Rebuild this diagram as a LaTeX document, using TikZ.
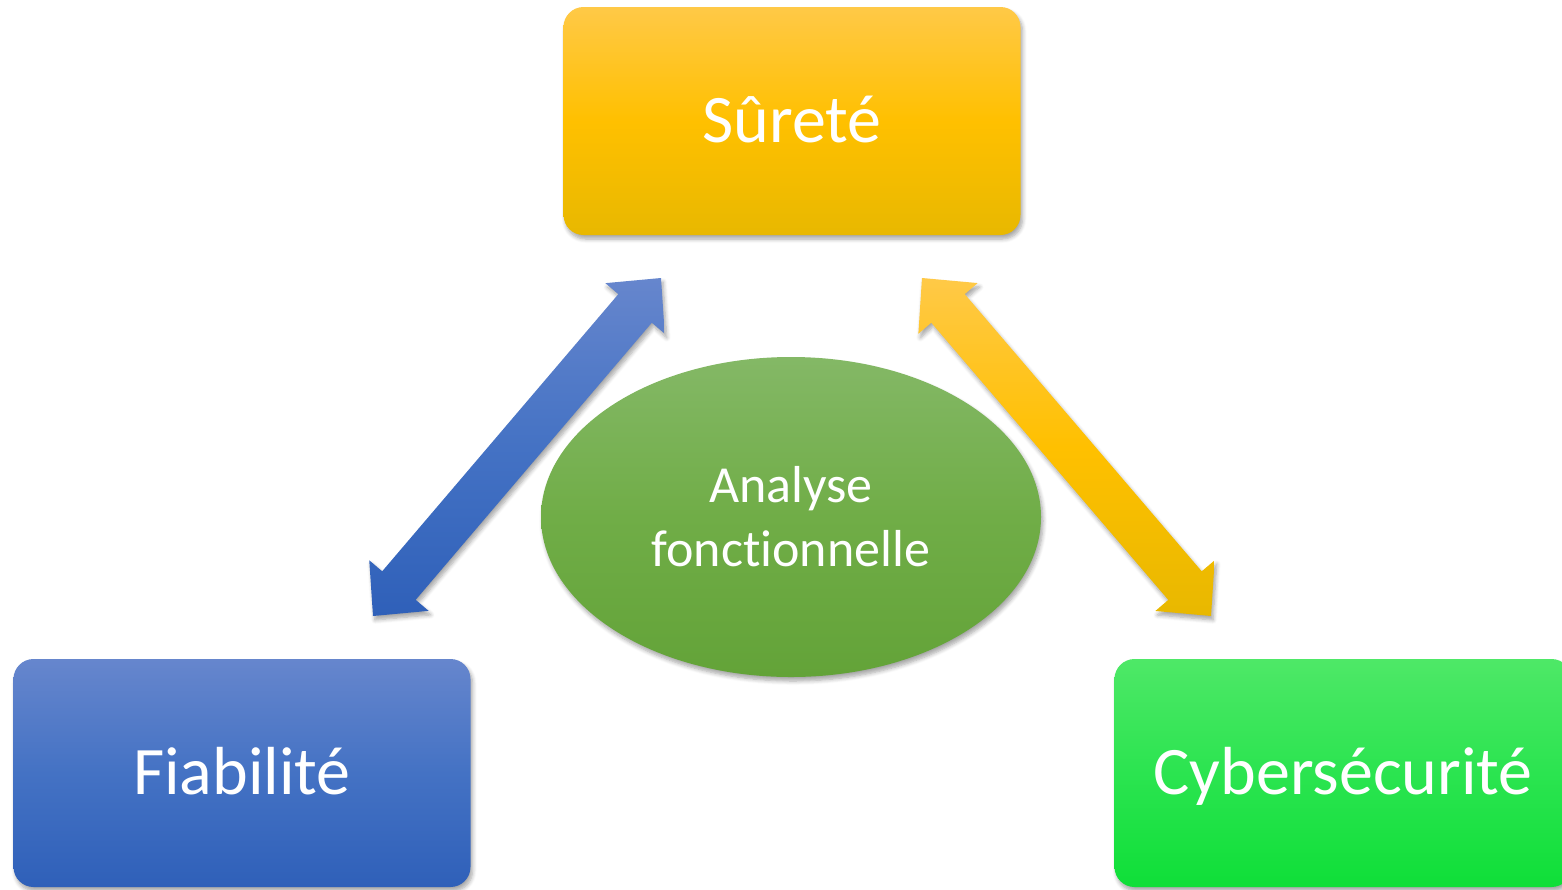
\documentclass[tikz,border=0pt]{standalone}
\usepackage{fontspec}
\setmainfont{Carlito}[Ligatures=NoCommon]
\usetikzlibrary{shapes.geometric,shadows.blur,calc}

\definecolor{sureteTop}{HTML}{FFC947}
\definecolor{sureteMid}{HTML}{FFC000}
\definecolor{sureteBot}{HTML}{E8B800}
\definecolor{fiabTop}{HTML}{6686CD}
\definecolor{fiabMid}{HTML}{4472C4}
\definecolor{fiabBot}{HTML}{2F60B9}
\definecolor{cyberTop}{HTML}{4EE867}
\definecolor{cyberMid}{HTML}{2BE450}
\definecolor{cyberBot}{HTML}{0FDF38}
\definecolor{analyseTop}{HTML}{84B866}
\definecolor{analyseMid}{HTML}{70AD47}
\definecolor{analyseBot}{HTML}{63A338}

\tikzset{
  softshadow/.style={blur shadow={shadow xshift=1pt, shadow yshift=-2pt, shadow blur radius=2pt,
    shadow blur steps=6, shadow opacity=35}},
  shadefrom/.style n args={3}{top color=#1, bottom color=#3, middle color=#2},
  pillar/.style={rectangle, rounded corners=10pt, minimum width=228.5pt, minimum height=114pt,
    inner sep=0pt, text=white, font=\fontsize{34}{40}\selectfont, text height=21pt, text depth=0pt, softshadow},
}

\newcommand{\pillarnode}[4] {\node at (#1) (#2) [pillar, shadefrom={#3Top}{#3Mid}{#3Bot}] {#4};}
\newcommand{\blockarrow}[3] {
  \coordinate (#1h) at ($(#1)!20pt!(#2)$);
  \coordinate (#2h) at ($(#2)!20pt!(#1)$);
  \shade [shadefrom={#3Top}{#3Mid}{#3Bot}, softshadow]
    (#1) -- ($(#1h)!19.5pt!90:(#2)$) -- ($(#1h)!11pt!90:(#2)$)
    -- ($(#2h)!11pt!-90:(#1)$) -- ($(#2h)!19.5pt!-90:(#1)$)
    -- (#2) -- ($(#2h)!19.5pt!90:(#1)$) -- ($(#2h)!11pt!90:(#1)$)
    -- ($(#1h)!11pt!-90:(#2)$) -- ($(#1h)!19.5pt!-90:(#2)$) -- cycle;
}

\begin{document}
\begin{tikzpicture}[x=0.5pt, y=-0.5pt]

\clip (0,0) rectangle (1562,889);

\pillarnode {792,121}{surete}{surete}{Sûreté}
\pillarnode {242,773}{fiab}{fiab}{Fiabilité}
\pillarnode {1343,773}{cyber}{cyber}{Cybersécurité}

\node at (791,517) (analyse) [ellipse, minimum width=250pt, minimum height=160pt, inner sep=0pt,
  shadefrom={analyseTop}{analyseMid}{analyseBot}, softshadow, text=white, align=center,
  font=\fontsize{26}{32}\selectfont, text height=49pt, text depth=0pt] {Analyse\\fonctionnelle};

% double arrows
\coordinate (fiabTip) at (373,616);
\coordinate (sureteTipL) at (661,278);
\coordinate (sureteTipR) at (922,278);
\coordinate (cyberTip) at (1211,616);
\blockarrow {sureteTipL}{fiabTip}{fiab}
\blockarrow {sureteTipR}{cyberTip}{surete}

\end{tikzpicture}
\end{document}
